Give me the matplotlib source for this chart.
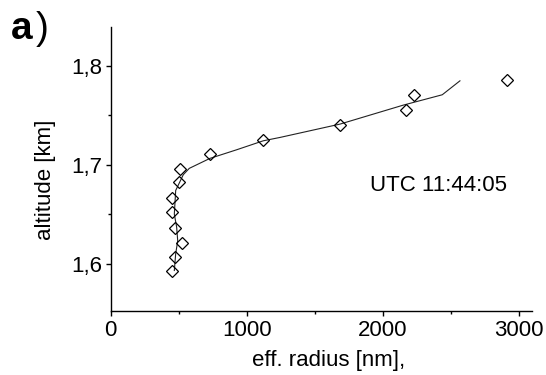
import matplotlib
matplotlib.use("Agg")
import matplotlib.pyplot as plt
from matplotlib.ticker import MultipleLocator, FuncFormatter

plt.rcParams['font.family'] = ['Liberation Sans', 'DejaVu Sans']

# measured diamonds
radius_pts = [2912, 2232, 2169, 1686, 1122, 730, 510, 502, 454, 452, 476, 526, 471, 451]
alt_pts = [1.7854, 1.7705, 1.7557, 1.7405, 1.7253, 1.7108, 1.6956, 1.6825,
           1.6665, 1.652, 1.6365, 1.621, 1.607, 1.592]

# fitted line
radius_fit = [468, 478, 493, 485, 468, 478, 534, 578, 730, 926, 1122, 1245, 1686, 2151, 2438, 2568]
alt_fit = [1.593, 1.610, 1.623, 1.637, 1.650, 1.674, 1.690, 1.6964, 1.7065, 1.7152,
           1.7243, 1.7277, 1.7412, 1.7604, 1.7709, 1.785]

fig = plt.figure(figsize=(5.46, 3.75), dpi=100)
ax = fig.add_axes([0.2027, 0.1707, 0.7722, 0.7565])

ax.plot(radius_fit, alt_fit, color='#222222', lw=0.8)
ax.plot(radius_pts, alt_pts, linestyle='none', marker='D', markersize=6.6,
        markerfacecolor='none', markeredgecolor='black', markeredgewidth=0.9)

ax.set_xlim(0, 3100)
ax.set_ylim(1.552, 1.8392)
ax.spines['top'].set_visible(False)
ax.spines['right'].set_visible(False)
for s in ('left', 'bottom'):
    ax.spines[s].set_linewidth(1.0)

ax.xaxis.set_major_locator(MultipleLocator(1000))
ax.xaxis.set_minor_locator(MultipleLocator(500))
ax.yaxis.set_major_locator(MultipleLocator(0.1))
ax.yaxis.set_minor_locator(MultipleLocator(0.05))
ax.yaxis.set_major_formatter(FuncFormatter(lambda v, p: f"{v:.1f}".replace('.', ',')))
ax.tick_params(which='major', direction='out', length=3.5, width=1.0, labelsize=16, pad=2.8)
ax.tick_params(which='minor', direction='out', length=2.2, width=1.0)

ax.set_xlabel('')
ax.set_ylabel('')
fig.text(328.5 / 546, 1 - 366 / 375, 'eff. radius [nm],', fontsize=16,
         ha='center', va='baseline')
fig.text(45 / 546, 1 - 180 / 375, 'altitude [km]', fontsize=16, rotation=90,
         ha='center', va='center')

fig.text(369.5 / 546, 1 - 190.7 / 375, 'UTC 11:44:05', fontsize=16, va='baseline')

fig.text(11 / 546, 1 - 39 / 375, 'a', fontsize=28, fontweight='bold', va='baseline')
fig.text(36 / 546, 1 - 39 / 375, ')', fontsize=28, va='baseline')

fig.savefig('out.png', dpi=100)
